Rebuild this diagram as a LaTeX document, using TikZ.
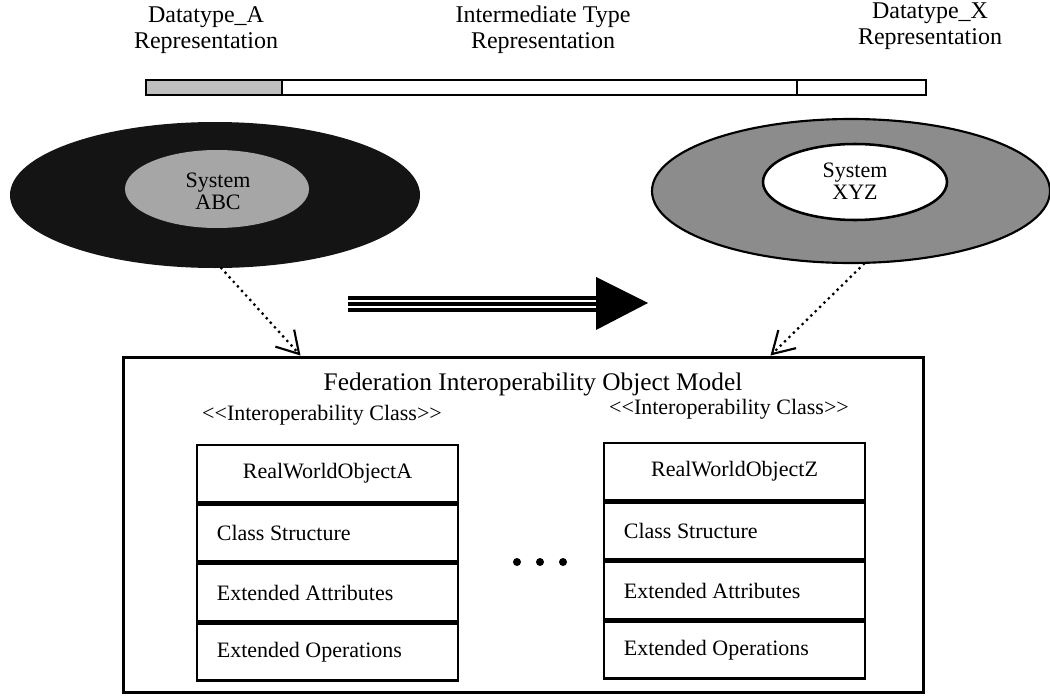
\documentclass[tikz,border=0pt]{standalone}
\usepackage{fontspec}
\setmainfont{Liberation Serif}
\usetikzlibrary{shapes.geometric,arrows.meta}
\newcommand{\stereo}{<{}<Interoperability Class>{}>}
\begin{document}
\begin{tikzpicture}[x=0.75pt,y=-0.75pt,
  lbl/.style={align=center,font=\fontsize{18}{19.5}\selectfont,inner sep=0pt},
  stxt/.style={align=center,font=\fontsize{16.5}{16.5}\selectfont,inner sep=0pt},
  ctxt/.style={font=\fontsize{16.5}{18}\selectfont,inner sep=0pt},
  crow/.style={draw,line width=1.9pt,minimum width=196pt,minimum height=42.75pt,
    font=\fontsize{16.5}{18}\selectfont,inner sep=0pt,text width=166pt,align=flush left},
  ctitle/.style={crow,align=flush center},
  barseg/.style={draw,line width=1.5pt,minimum height=11.25pt,inner sep=0pt,anchor=north west},
  dotarrow/.style={line width=2.4pt,dash pattern=on 0pt off 4.6pt,line cap=round,
    -{Straight Barb[length=16pt,width=19pt,line width=1.6pt]}},
  dotc/.style={circle,fill=black,inner sep=0pt,minimum size=6pt}
]
\useasboundingbox (0,0) rectangle (1050,696);

% top labels
\node[lbl] (lA) at (206,30) {Datatype\_A\\Representation};
\node[lbl] (lI) at (543,30) {Intermediate Type\\Representation};
\node[lbl] (lX) at (930,26) {Datatype\_X\\Representation};

% bar
\node[barseg,fill=black!25,minimum width=102pt] (barA) at (145,79) {};
\node[barseg,minimum width=386.25pt] (barI) at (281,79) {};
\node[barseg,minimum width=96.75pt] (barX) at (796,79) {};

% systems
\node[ellipse,fill=black!92,inner sep=0pt,minimum width=307.5pt,minimum height=109.5pt] (ellA) at (215,195) {};
\node[ellipse,fill=black!35,inner sep=0pt,minimum width=138pt,minimum height=58.5pt] (inA) at (217,189) {};
\node[stxt] (tA) at (218,191) {System\\ABC};

\node[ellipse,draw,line width=1.6pt,fill=black!45,inner sep=0pt,minimum width=298.5pt,minimum height=108pt] (ellX) at (851,191) {};
\node[ellipse,draw,line width=1.9pt,fill=white,inner sep=0pt,minimum width=138pt,minimum height=57pt] (inX) at (855,182) {};
\node[stxt] (tX) at (855,181) {System\\XYZ};

% big arrow
\coordinate (arrS) at (348,304);
\coordinate (arrE) at (596,304);
\draw[line width=3pt] ([yshift=4.5pt]arrS) -- ([yshift=4.5pt]arrE);
\draw[line width=3pt] (arrS) -- (arrE);
\draw[line width=3pt] ([yshift=-4.5pt]arrS) -- ([yshift=-4.5pt]arrE);
\fill (596,277) -- (648,303) -- (596,330) -- cycle;

% federation box
\node[draw,line width=2.25pt,minimum width=600pt,minimum height=251.25pt,inner sep=0pt] (fiom) at (523,524.5) {};
\path (fiom.north west) ++(179,0) coordinate (tipA);
\path (fiom.north west) ++(649,0) coordinate (tipX);
\draw[dotarrow] (ellA.275) -- (tipA);
\draw[dotarrow] (ellX.280) -- (tipX);

\node[font=\fontsize{19}{22}\selectfont,inner sep=0pt] (title) at (533,384) {Federation Interoperability Object Model};
\node[ctxt] (stA) at (322,415) {\stereo};
\node[ctxt] (stX) at (729,409) {\stereo};

% class A
\node[ctitle] (a1) at (327.5,473.5) {RealWorldObjectA};
\node[crow,anchor=north] (a2) at (a1.south) {Class Structure};
\node[crow,anchor=north] (a3) at (a2.south) {Extended Attributes};
\node[crow,anchor=north] (a4) at (a3.south) {Extended Operations};

% class Z
\node[ctitle] (z1) at (734.5,471.5) {RealWorldObjectZ};
\node[crow,anchor=north] (z2) at (z1.south) {Class Structure};
\node[crow,anchor=north] (z3) at (z2.south) {Extended Attributes};
\node[crow,anchor=north] (z4) at (z3.south) {Extended Operations};

% ellipsis dots
\node[dotc] (d1) at (517,562) {};
\node[dotc] (d2) at (540,562) {};
\node[dotc] (d3) at (563,562) {};
\end{tikzpicture}
\end{document}
